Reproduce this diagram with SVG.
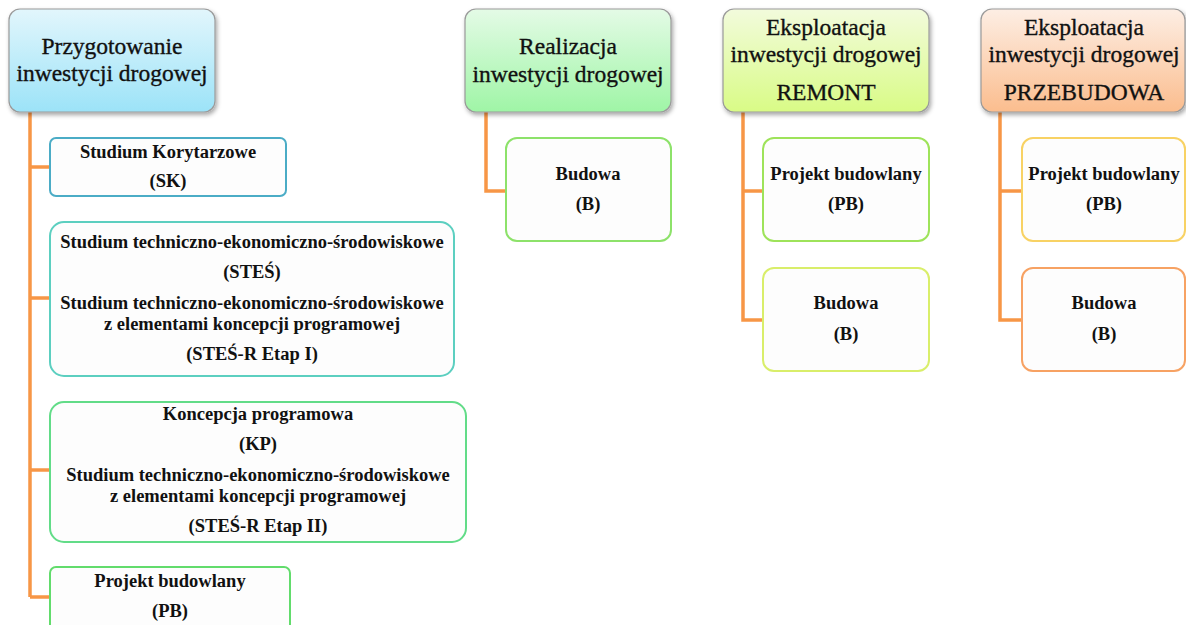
<svg xmlns="http://www.w3.org/2000/svg" width="1186" height="625" viewBox="0 0 1186 625">
<defs>
<linearGradient id="gBlue" x1="0" y1="0" x2="0" y2="1"><stop offset="0" stop-color="#e2f6fc"/><stop offset="1" stop-color="#9ce3f8"/></linearGradient>
<linearGradient id="gGreen" x1="0" y1="0" x2="0" y2="1"><stop offset="0" stop-color="#e4fbe6"/><stop offset="1" stop-color="#9ff5a6"/></linearGradient>
<linearGradient id="gLime" x1="0" y1="0" x2="0" y2="1"><stop offset="0" stop-color="#f2fbdc"/><stop offset="1" stop-color="#d9fb86"/></linearGradient>
<linearGradient id="gOrange" x1="0" y1="0" x2="0" y2="1"><stop offset="0" stop-color="#fdeee4"/><stop offset="1" stop-color="#fbbd8e"/></linearGradient>
<filter id="sh" x="-10%" y="-10%" width="125%" height="130%"><feDropShadow dx="1.5" dy="2.5" stdDeviation="2" flood-color="#000" flood-opacity="0.35"/></filter>
</defs>
<style>
.hdr{stroke:#9a9a9a;stroke-width:1.2;filter:url(#sh)}
.box{fill:#fdfdfd;stroke-width:2}
.ht{font-family:"Liberation Serif",serif;font-size:23.5px;fill:#111;stroke:#111;stroke-width:0.35;text-anchor:middle}
.ct{font-family:"Liberation Serif",serif;font-size:18.5px;font-weight:bold;fill:#111;text-anchor:middle}
.con{fill:none;stroke:#f79646;stroke-width:3.5}
</style>
<rect width="1186" height="625" fill="#ffffff"/>
<g id="connectors">
<path class="con" d="M30 112 V597 M30 167 H50 M30 298 H50 M30 470 H50 M30 597 H50"/>
<path class="con" d="M486 112 V191 H506"/>
<path class="con" d="M743 112 V320 H763 M743 191 H763"/>
<path class="con" d="M1000 112 V320 H1022 M1000 191 H1022"/>
</g>
<g id="n-przygotowanie">
<rect class="hdr" x="9" y="9" width="206" height="103" rx="11" fill="url(#gBlue)"/>
<text class="ht" x="112" y="54">Przygotowanie</text>
<text class="ht" x="112" y="81">inwestycji drogowej</text>
</g>
<g id="n-sk">
<rect class="box" x="50" y="138" width="236" height="58" rx="6" stroke="#4bacc6"/>
<text class="ct" x="168" y="158">Studium Korytarzowe</text>
<text class="ct" x="168" y="187">(SK)</text>
</g>
<g id="n-stes">
<rect class="box" x="50" y="222" width="404" height="154" rx="14" stroke="#5ccfc0"/>
<text class="ct" x="252" y="248">Studium techniczno-ekonomiczno-środowiskowe</text>
<text class="ct" x="252" y="278">(STEŚ)</text>
<text class="ct" x="252" y="309">Studium techniczno-ekonomiczno-środowiskowe</text>
<text class="ct" x="252" y="330">z elementami koncepcji programowej</text>
<text class="ct" x="252" y="360">(STEŚ-R Etap I)</text>
</g>
<g id="n-kp">
<rect class="box" x="50" y="402" width="416" height="140" rx="14" stroke="#62dc88"/>
<text class="ct" x="258" y="420">Koncepcja programowa</text>
<text class="ct" x="258" y="450">(KP)</text>
<text class="ct" x="258" y="481">Studium techniczno-ekonomiczno-środowiskowe</text>
<text class="ct" x="258" y="502">z elementami koncepcji programowej</text>
<text class="ct" x="258" y="532">(STEŚ-R Etap II)</text>
</g>
<g id="n-pb1">
<rect class="box" x="50" y="567" width="240" height="70" rx="6" stroke="#62dc6c"/>
<text class="ct" x="170" y="587">Projekt budowlany</text>
<text class="ct" x="170" y="617">(PB)</text>
</g>
<g id="n-realizacja">
<rect class="hdr" x="465" y="9" width="206" height="103" rx="11" fill="url(#gGreen)"/>
<text class="ht" x="568" y="54">Realizacja</text>
<text class="ht" x="568" y="82">inwestycji drogowej</text>
</g>
<g id="n-b1">
<rect class="box" x="506" y="138" width="165" height="103" rx="11" stroke="#8de26a"/>
<text class="ct" x="588" y="180">Budowa</text>
<text class="ct" x="588" y="210">(B)</text>
</g>
<g id="n-remont">
<rect class="hdr" x="723" y="9" width="206" height="103" rx="11" fill="url(#gLime)"/>
<text class="ht" x="826" y="35">Eksploatacja</text>
<text class="ht" x="826" y="62">inwestycji drogowej</text>
<text class="ht" x="826" y="100">REMONT</text>
</g>
<g id="n-pb2">
<rect class="box" x="763" y="138" width="166" height="103" rx="11" stroke="#9ee35a"/>
<text class="ct" x="846" y="180">Projekt budowlany</text>
<text class="ct" x="846" y="210">(PB)</text>
</g>
<g id="n-b2">
<rect class="box" x="763" y="268" width="166" height="103" rx="11" stroke="#d9ee6a"/>
<text class="ct" x="846" y="309">Budowa</text>
<text class="ct" x="846" y="340">(B)</text>
</g>
<g id="n-przebudowa">
<rect class="hdr" x="981" y="9" width="204" height="103" rx="11" fill="url(#gOrange)"/>
<text class="ht" x="1084" y="35">Eksploatacja</text>
<text class="ht" x="1084" y="62">inwestycji drogowej</text>
<text class="ht" x="1084" y="100">PRZEBUDOWA</text>
</g>
<g id="n-pb3">
<rect class="box" x="1022" y="138" width="163" height="103" rx="11" stroke="#f8d264"/>
<text class="ct" x="1104" y="180">Projekt budowlany</text>
<text class="ct" x="1104" y="210">(PB)</text>
</g>
<g id="n-b3">
<rect class="box" x="1022" y="268" width="163" height="103" rx="11" stroke="#f7a263"/>
<text class="ct" x="1104" y="309">Budowa</text>
<text class="ct" x="1104" y="340">(B)</text>
</g>
</svg>
